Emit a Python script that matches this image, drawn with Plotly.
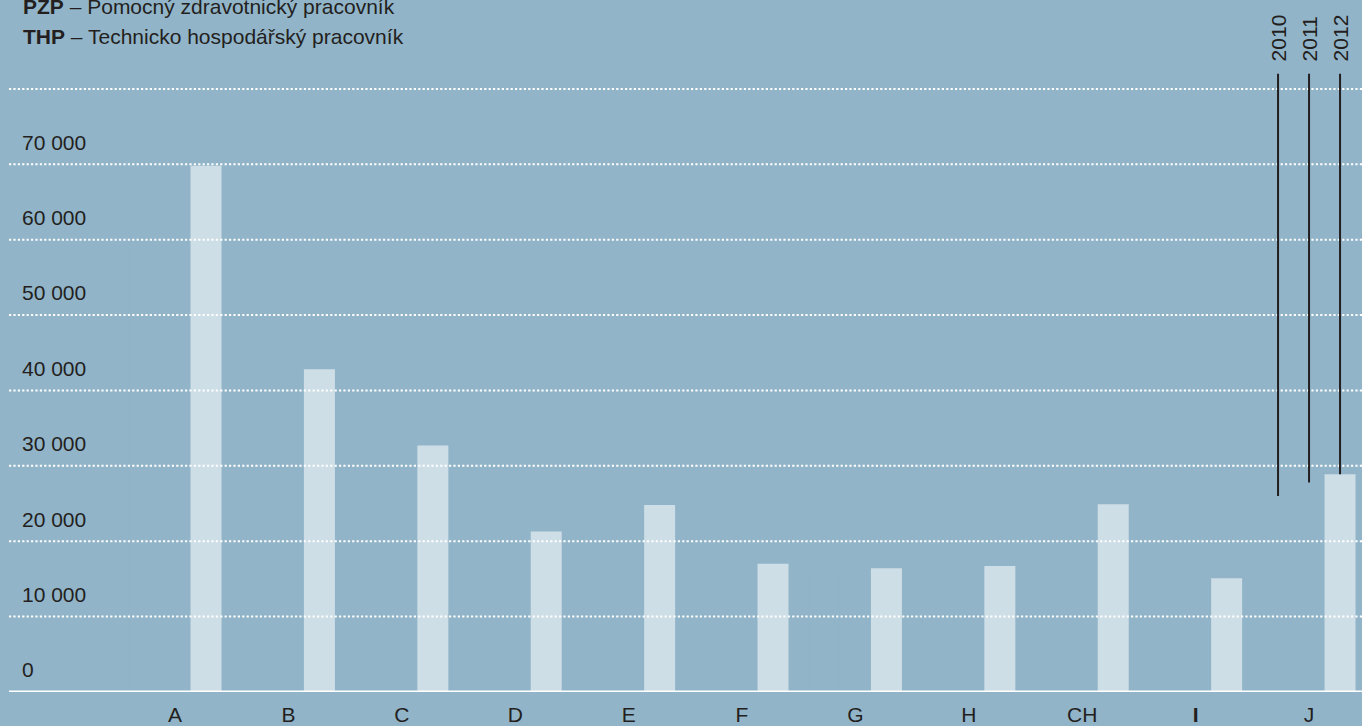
import plotly.graph_objects as go

categories = ["A", "B", "C", "D", "E", "F", "G", "H", "CH", "I", "J"]
tick_labels = ["A", "B", "C", "D", "E", "F", "G", "H", "CH", "<b>I</b>", "J"]
years = ["2010", "2011", "2012"]
values_2010 = [61000, 40000, 31000, 20500, 23500, 16000, 15500, 16000, 23400, 14500, 26000]
values_2011 = [64600, 41500, 32000, 21000, 24500, 16500, 16000, 16300, 23400, 14800, 27800]
values_2012 = [69800, 42800, 32700, 21300, 24800, 17000, 16400, 16700, 24900, 15100, 28900]
y_ticks = [0, 10000, 20000, 30000, 40000, 50000, 60000, 70000, 80000]
y_tick_labels = ["0", "10 000", "20 000", "30 000", "40 000", "50 000", "60 000", "70 000", ""]
notes = [("PZP", "Pomocný zdravotnický pracovník"), ("THP", "Technicko hospodářský pracovník")]

BG = "#91b4c8"
BAR = "#cedee6"
INK = "#231f20"
FONT = "Liberation Sans, Arial, sans-serif"
BARGAP = 0.18
BAR_W = (1 - BARGAP) / 3
LINE_TOP = 82000

fig = go.Figure()
for name, vals, col in [("2010", values_2010, BG), ("2011", values_2011, BG), ("2012", values_2012, BAR)]:
    fig.add_trace(go.Bar(x=categories, y=vals, name=name, marker=dict(color=col, line=dict(width=0)),
                         hoverinfo="x+y+name"))

# dotted gridlines drawn above the bars
for t in y_ticks[1:]:
    fig.add_shape(type="line", xref="paper", x0=0, x1=1, yref="y", y0=t, y1=t,
                  line=dict(color="white", width=2, dash="2.2px,2.2px"), layer="above")

# baseline
fig.add_shape(type="line", xref="paper", x0=0, x1=1, yref="y", y0=0, y1=0,
              line=dict(color="white", width=3), layer="above")

# year pointer lines and labels on last category
last = len(categories) - 1
series = [values_2010, values_2011, values_2012]
for k, (yr, vals) in enumerate(zip(years, series)):
    xc = last + (k - 1) * BAR_W
    fig.add_shape(type="line", xref="x", x0=xc, x1=xc, yref="y", y0=vals[last], y1=LINE_TOP,
                  line=dict(color=INK, width=2), layer="above")
    fig.add_annotation(x=xc, y=LINE_TOP, xref="x", yref="y", text=yr, textangle=-90,
                       showarrow=False, yanchor="bottom", xanchor="center", yshift=10,
                       font=dict(family=FONT, size=21, color=INK))

for i, (abbr, desc) in enumerate(notes):
    fig.add_annotation(x=0, y=1, xref="paper", yref="paper", xanchor="left", yanchor="middle",
                       xshift=12, yshift=-6 - 30 * i, showarrow=False,
                       text=f"<b>{abbr}</b> – {desc}",
                       font=dict(family=FONT, size=21, color=INK))

fig.update_layout(
    width=1362, height=726,
    margin=dict(l=9, r=0, t=0, b=32, pad=0),
    paper_bgcolor=BG, plot_bgcolor=BG,
    barmode="group", bargap=BARGAP, bargroupgap=0,
    showlegend=False,
    font=dict(family=FONT, size=21, color=INK),
    xaxis=dict(range=[-1.464, 10.467], tickvals=categories, ticktext=tick_labels,
               showgrid=False, zeroline=False, showline=False, ticks="",
               ticklabelstandoff=8, tickfont=dict(family=FONT, size=21, color=INK)),
    yaxis=dict(range=[0, 91800], tickvals=y_ticks, ticktext=y_tick_labels,
               showgrid=False, zeroline=False, showline=False, ticks="",
               ticklabelposition="inside", ticklabelshift=-22, ticklabelstandoff=10,
               ticklabeloverflow="allow",
               tickfont=dict(family=FONT, size=21, color=INK)),
)

fig.write_html("out.html", config={"displayModeBar": False},
               post_script="document.body.style.margin='0';document.body.style.overflow='hidden';")
